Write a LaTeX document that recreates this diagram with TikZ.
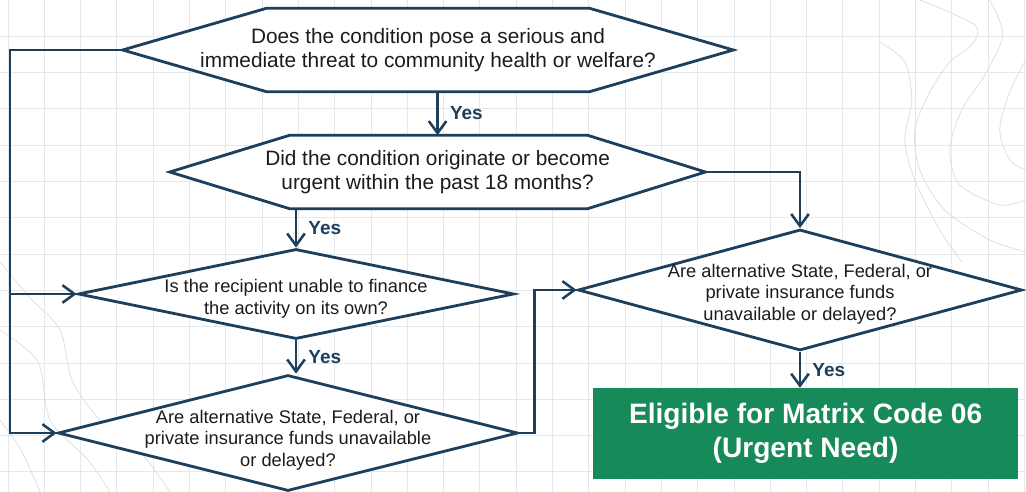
\documentclass[tikz,border=0pt]{standalone}
\usepackage{fontspec}
\setmainfont{Liberation Sans}
\usetikzlibrary{shapes.geometric,arrows.meta,positioning,backgrounds}
\definecolor{navy}{HTML}{1D3F5C}
\definecolor{okgreen}{HTML}{168A59}
\definecolor{gridgray}{HTML}{E5E9EB}
\definecolor{contour}{HTML}{DADDDF}
\definecolor{textdark}{HTML}{1C1C1C}

\begin{document}
\begin{tikzpicture}[
    outline/.style={draw=navy, line width=2pt, fill=white, inner sep=0pt},
    hexq/.style={rectangle, inner sep=0pt, align=center, text=textdark,
        font=\fontsize{14.8}{17.5}\selectfont},
    diaq/.style={outline, diamond},
    qtext/.style={align=center, text=textdark, inner sep=0pt,
        font=\fontsize{13}{15.3}\selectfont},
    result/.style={rectangle, fill=okgreen, text=white, align=center,
        font=\bfseries\fontsize{20}{24}\selectfont},
    arr/.style={draw=navy, line width=1.8pt, -{Straight Barb[length=3mm,width=4.4mm]}},
    yes/.style={midway, right=0.28cm, inner sep=0pt, text=navy,
        font=\bfseries\fontsize{13.5}{16}\selectfont},
    gridline/.style={draw=gridgray, line width=0.6pt}
]
    \useasboundingbox (0,0) rectangle (25.65,12.3);

    \begin{scope}[on background layer]
        \fill[white] (0,0) rectangle (25.65,12.3);
        % background grid
        \foreach \i in {0,...,28}
            \draw[gridline] (0.2+0.9075*\i,0) -- ++(0,12.3);
        \foreach \j in {1,...,13}
            \draw[gridline] (0,12.3-0.9075*\j) -- ++(25.65,0);
        % faint contour lines
        \begin{scope}[x=0.025cm, y=-0.025cm, yshift=12.3cm, draw=contour, line width=0.5pt]
            \draw plot[smooth] coordinates {(920,0) (975,25) (972,45) (950,62) (930,92) (915,130) (920,170) (945,210) (990,240) (1026,252)};
            \draw plot[smooth] coordinates {(990,0) (1003,35) (985,75) (962,110) (950,150) (960,185) (1000,205) (1026,200)};
            \draw plot[smooth] coordinates {(880,42) (905,62) (912,100) (905,140) (915,180) (940,230) (962,262)};
            \draw plot[smooth] coordinates {(1026,60) (1010,92) (1000,130) (1010,160) (1026,170)};
            \draw plot[smooth] coordinates {(0,262) (30,298) (60,330) (72,380) (100,420) (140,452) (170,492)};
            \draw plot[smooth] coordinates {(0,330) (38,362) (50,420) (88,460) (110,492)};
            \draw plot[smooth] coordinates {(0,420) (22,452) (40,492)};
        \end{scope}
    \end{scope}

    % questions
    \node[hexq, minimum width=15.25cm, minimum height=2.075cm]
        (q1) at (10.70,11.05) {Does the condition pose a serious and\\immediate threat to community health or welfare?};
    \node[hexq, minimum width=13.375cm, minimum height=1.825cm]
        (q2) at (10.94,8.0) {Did the condition originate or become\\urgent within the past 18 months?};
    \begin{scope}[on background layer]
        \draw[outline] (q1.west) -- ([xshift=3.6cm]q1.north west) -- ([xshift=-3.6cm]q1.north east)
            -- (q1.east) -- ([xshift=-3.6cm]q1.south east) -- ([xshift=3.6cm]q1.south west) -- cycle;
        \draw[outline] (q2.west) -- ([xshift=3cm]q2.north west) -- ([xshift=-2.95cm]q2.north east)
            -- (q2.east) -- ([xshift=-2.95cm]q2.south east) -- ([xshift=3cm]q2.south west) -- cycle;
    \end{scope}

    \node[diaq, minimum width=10.9cm, minimum height=2.25cm,
        label={[qtext, yshift=-0.12cm]center:{Is the recipient unable to finance\\the activity on its own?}}]
        (d1) at (7.40,4.95) {};
    \node[diaq, minimum width=11.5cm, minimum height=2.9cm,
        label={[qtext, yshift=-0.18cm]center:{Are alternative State, Federal, or\\private insurance funds unavailable\\or delayed?}}]
        (d2) at (7.20,1.475) {};
    \node[diaq, minimum width=11.1cm, minimum height=3.025cm,
        label={[qtext, yshift=-0.1cm]center:{Are alternative State, Federal, or\\private insurance funds\\unavailable or delayed?}}]
        (d3) at (20.0,5.05) {};
    \node[result, minimum width=10.625cm, minimum height=2.275cm]
        (res) at (20.14,1.46) {Eligible for Matrix Code 06\\(Urgent Need)};

    \coordinate (rail) at (0.25,0);

    % connectors
    \draw[arr] (q1.south -| q2.north) -- (q2.north) node[yes] {Yes};
    \draw[arr] (q2.south -| d1.north) -- (d1.north) node[yes] {Yes};
    \draw[arr] (d1.south) -- (d1.south |- d2.north) node[yes] {Yes};
    \draw[arr] (d3.south) -- (d3.south |- res.north) node[yes] {Yes};
    \draw[arr] (q2.east) -| (d3.north);
    \draw[arr] (d2.east) -- ++(0.375,0) |- (d3.west);
    \draw[arr] (q1.west) -- (q1.west -| rail) |- (d2.west);
    \draw[arr] (d1.west -| rail) -- (d1.west);
\end{tikzpicture}
\end{document}
